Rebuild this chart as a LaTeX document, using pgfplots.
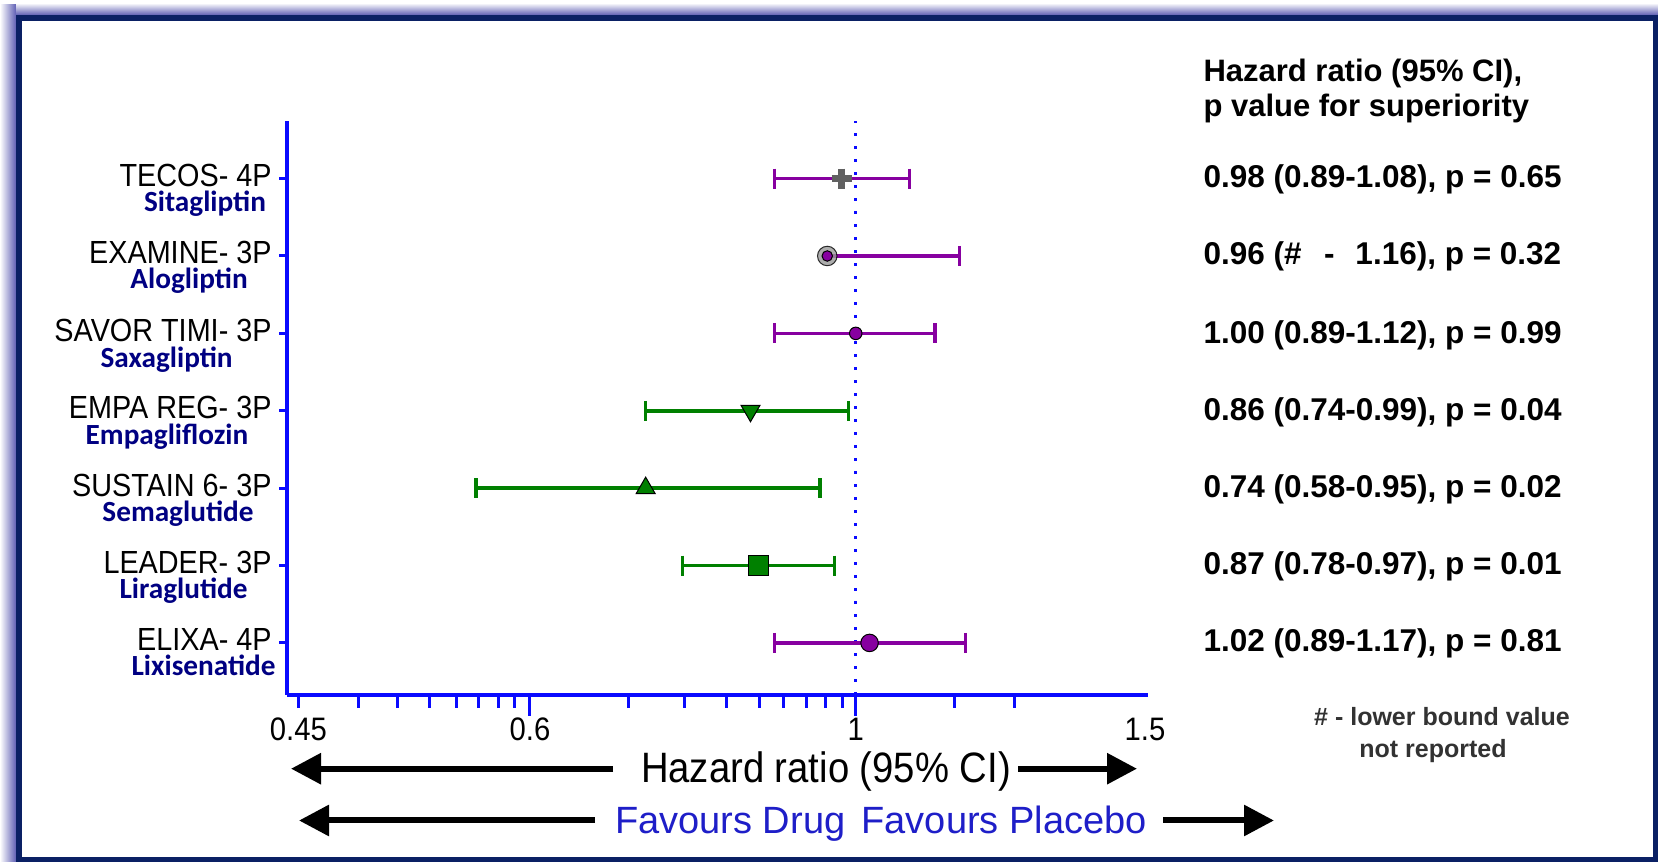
\documentclass[border=0pt]{standalone}
\usepackage{fontspec}
\usepackage{pgfplots}
\pgfplotsset{compat=1.18}
\usetikzlibrary{arrows.meta}
\setmainfont{Liberation Sans}
\newfontfamily\narrowfont{Liberation Sans}[FakeStretch=0.9]
\newfontfamily\carlito{Carlito}
\definecolor{navyframe}{RGB}{10,32,100}
\definecolor{lav}{RGB}{95,95,180}
\definecolor{axblue}{RGB}{10,10,255}
\definecolor{purp}{RGB}{135,0,160}
\definecolor{grn}{RGB}{0,128,0}
\definecolor{drugnavy}{RGB}{0,0,130}
\definecolor{favblue}{RGB}{30,30,200}
\definecolor{notegray}{RGB}{50,50,50}
\newcommand{\drugfont}{\carlito\bfseries\fontsize{11.7}{12}\selectfont\color{drugnavy}}
\newcommand{\valfont}{\bfseries\fontsize{12.6}{13}\selectfont}
\begin{document}
\begin{tikzpicture}
\useasboundingbox (0,0) rectangle (663.2pt,344.8pt);
\begin{scope}[x=0.4pt,y=0.4pt]
% frame
\fill[white] (0,0) rectangle (1658,862);
\shade[left color=white,right color=lav] (0,0) rectangle (16,857);
\shade[top color=white,bottom color=lav] (16,847) rectangle (1658,859);
\fill[navyframe] (16,0) rectangle (1658,847);
\fill[white] (22,5) rectangle (1653,841);
% drug names (second line of category labels)
\node[anchor=base,inner sep=0pt] at (205,650.3) {\drugfont Sitagliptin};
\node[anchor=base,inner sep=0pt] at (189,573.1) {\drugfont Alogliptin};
\node[anchor=base,inner sep=0pt] at (166.6,494.9) {\drugfont Saxagliptin};
\node[anchor=base,inner sep=0pt] at (167,417.7) {\drugfont Empagliflozin};
\node[anchor=base,inner sep=0pt] at (178,340.5) {\drugfont Semaglutide};
\node[anchor=base,inner sep=0pt] at (183.6,263.3) {\drugfont Liraglutide};
\node[anchor=base,inner sep=0pt] at (203.6,186.1) {\drugfont Lixisenatide};
% header
\node[anchor=base west,inner sep=0pt] at (1203,780) {\bfseries\fontsize{12.4}{13}\selectfont Hazard ratio (95\% CI),};
\node[anchor=base west,inner sep=0pt] at (1203,745) {\bfseries\fontsize{12.4}{13}\selectfont p value for superiority};
% values
\node[anchor=base west,inner sep=0pt] at (1203,674.3) {\valfont 0.98 (0.89-1.08), p = 0.65};
\node[anchor=base west,inner sep=0pt] at (1203,597.1) {\valfont 0.96 (\#\hspace{0.72em}-\hspace{0.66em}1.16), p = 0.32};
\node[anchor=base west,inner sep=0pt] at (1203,518.9) {\valfont 1.00 (0.89-1.12), p = 0.99};
\node[anchor=base west,inner sep=0pt] at (1203,441.7) {\valfont 0.86 (0.74-0.99), p = 0.04};
\node[anchor=base west,inner sep=0pt] at (1203,364.5) {\valfont 0.74 (0.58-0.95), p = 0.02};
\node[anchor=base west,inner sep=0pt] at (1203,287.3) {\valfont 0.87 (0.78-0.97), p = 0.01};
\node[anchor=base west,inner sep=0pt] at (1203,210.1) {\valfont 1.02 (0.89-1.17), p = 0.81};
% footnote
\node[anchor=base,inner sep=0pt,text=notegray] at (1442,136) {\bfseries\fontsize{10}{11}\selectfont \# - lower bound value};
\node[anchor=base,inner sep=0pt,text=notegray] at (1433,104) {\bfseries\fontsize{10}{11}\selectfont not reported};
% bottom arrows
\draw[line width=2.4pt,-{Triangle[length=12pt,width=12pt]}] (613,93.3) -- (291,93.3);
\draw[line width=2.4pt,-{Triangle[length=12pt,width=12pt]}] (1018,93.3) -- (1137,93.3);
\node[anchor=base,inner sep=0pt] at (826,79.5) {\narrowfont\fontsize{17}{18}\selectfont Hazard ratio (95\% CI)};
\draw[line width=2.4pt,-{Triangle[length=12pt,width=12pt]}] (595,41.5) -- (299,41.5);
\draw[line width=2.4pt,-{Triangle[length=12pt,width=12pt]}] (1163,41.5) -- (1274,41.5);
\node[anchor=base,inner sep=0pt,text=favblue] at (881,28) {\fontsize{15.2}{16}\selectfont Favours Drug\hspace{0.15em} Favours Placebo};
\end{scope}
\begin{axis}[
  at={(114.8pt,66.8pt)}, anchor=south west,
  scale only axis, width=344.4pt, height=229.4pt,
  xmode=log, xmin=0.4425, xmax=1.5205, ymin=0.327, ymax=7.738,
  axis x line*=bottom, axis y line*=left,
  axis line style={axblue, line width=1.6pt},
  tick align=outside,
  major tick length=8.4pt, minor tick length=5.2pt,
  tick style={axblue, line width=1.2pt},
  xtick={0.6269,1}, xticklabels={0.6,1},
  minor xtick={0.4498,0.4905,0.5183,0.5428,0.5642,0.5822,0.5992,0.6135,0.7223,0.7825,0.8309,0.8707,0.9022,0.9324,0.9581,0.9812,1.1523,1.2564},
  extra x ticks={0.4498,1.514}, extra x tick labels={0.45,1.5},
  extra x tick style={/pgfplots/major tick length=0pt, xticklabel style={yshift=-8.4pt}},
  xticklabel style={font=\narrowfont\fontsize{13}{13}\selectfont, anchor=center, yshift=-5.4pt},
  ytick={1,2,3,4,5,6,7},
  yticklabels={ELIXA- 4P, LEADER- 3P, SUSTAIN 6- 3P, EMPA REG- 3P, SAVOR TIMI- 3P, EXAMINE- 3P, TECOS- 4P},
  y tick style={/pgfplots/major tick length=3.2pt},
  yticklabel style={font=\narrowfont\fontsize{12.8}{13}\selectfont, anchor=east, inner sep=0pt, yshift=1.2pt, xshift=2.4pt},
  clip=false,
]
% reference line at HR = 1
\addplot[axblue, line width=1.2pt, line cap=butt, dash pattern=on 1.2pt off 4pt] coordinates {(1,0.327) (1,7.738)};
% confidence intervals
\addplot[purp, line width=1.4pt, mark=|, mark size=4pt, mark options={solid,line width=1.4pt}] coordinates {(0.89,7) (1.08,7)};
\addplot[purp, line width=1.4pt, mark=|, mark size=4pt, mark indices={2}, mark options={solid,line width=1.4pt}] coordinates {(0.96,6) (1.16,6)};
\addplot[purp, line width=1.4pt, mark=|, mark size=4pt, mark options={solid,line width=1.4pt}] coordinates {(0.89,5) (1.12,5)};
\addplot[grn, line width=1.4pt, mark=|, mark size=4pt, mark options={solid,line width=1.4pt}] coordinates {(0.74,4) (0.99,4)};
\addplot[grn, line width=1.4pt, mark=|, mark size=4pt, mark options={solid,line width=1.4pt}] coordinates {(0.58,3) (0.95,3)};
\addplot[grn, line width=1.4pt, mark=|, mark size=4pt, mark options={solid,line width=1.4pt}] coordinates {(0.78,2) (0.97,2)};
\addplot[purp, line width=1.4pt, mark=|, mark size=4pt, mark options={solid,line width=1.4pt}] coordinates {(0.89,1) (1.17,1)};
% point estimates
\addplot[only marks, mark=+, mark size=4pt, mark options={draw=black!62, line width=2.6pt}] coordinates {(0.98,7)};
\addplot[only marks, mark=*, mark size=3.9pt, mark options={draw=none, fill=black!40, opacity=0.8}] coordinates {(0.96,6)};
\addplot[only marks, mark=*, mark size=2.1pt, mark options={draw=none, fill=purp}] coordinates {(0.96,6)};
\addplot[only marks, mark=*, mark size=2.5pt, mark options={draw=none, fill=purp}] coordinates {(1.00,5)};
\addplot[only marks, mark=triangle*, mark size=4.4pt, mark options={draw=none, fill=grn, rotate=180}] coordinates {(0.86,4)};
\addplot[only marks, mark=triangle*, mark size=4.4pt, mark options={draw=none, fill=grn}] coordinates {(0.74,3)};
\addplot[only marks, mark=square*, mark size=4pt, mark options={draw=none, fill=grn}] coordinates {(0.87,2)};
\addplot[only marks, mark=*, mark size=3.5pt, mark options={draw=none, fill=purp}] coordinates {(1.02,1)};
\end{axis}
\end{tikzpicture}
\end{document}
